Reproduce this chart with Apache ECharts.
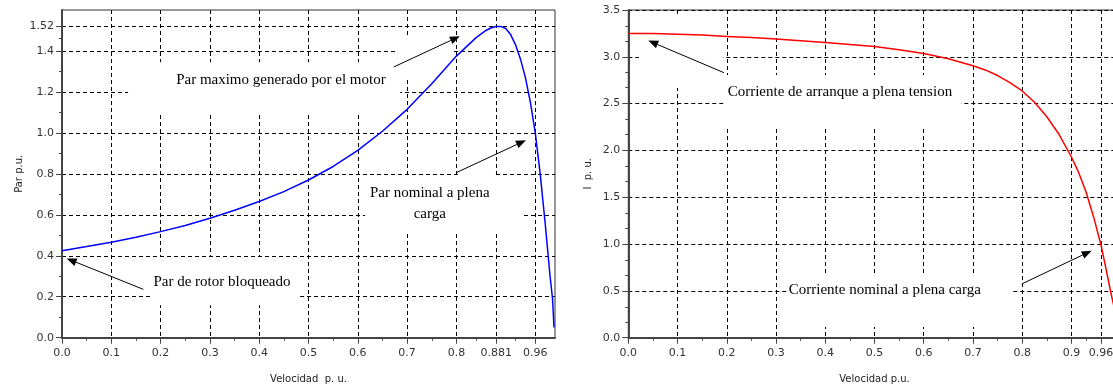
<!DOCTYPE html>
<html>
<head>
<meta charset="utf-8">
<script src="https://cdn.jsdelivr.net/npm/echarts@6/dist/echarts.min.js"></script>
<style>
html,body{margin:0;padding:0;background:#fff;}
#c{width:1113px;height:387px;}
</style>
</head>
<body>
<div id="c"></div>
<script>
// ---------- DATA ----------
// Left chart: torque (p.u.) vs speed (p.u.)
const torqueSpeed = [0.00,0.05,0.10,0.15,0.20,0.25,0.30,0.35,0.40,0.45,0.50,0.55,0.60,0.65,0.70,0.75,0.80,0.82,0.84,0.86,0.87,0.88,0.89,0.90,0.91,0.92,0.93,0.94,0.95,0.96,0.97,0.98,0.99,0.995,0.998];
const torqueValue = [0.425,0.445,0.466,0.490,0.518,0.548,0.583,0.622,0.665,0.713,0.770,0.836,0.915,1.008,1.115,1.24,1.375,1.42,1.465,1.50,1.512,1.519,1.52,1.51,1.48,1.43,1.36,1.27,1.15,1.00,0.80,0.56,0.30,0.19,0.05];
// Right chart: current (p.u.) vs speed (p.u.)
const currentSpeed = [0.00,0.05,0.10,0.15,0.20,0.25,0.30,0.35,0.40,0.45,0.50,0.55,0.60,0.65,0.70,0.725,0.75,0.775,0.80,0.825,0.85,0.875,0.90,0.915,0.93,0.945,0.96,0.97,0.98,0.99];
const currentValue = [3.25,3.248,3.242,3.232,3.218,3.205,3.19,3.172,3.152,3.132,3.11,3.075,3.035,2.98,2.905,2.86,2.80,2.725,2.635,2.515,2.36,2.17,1.93,1.76,1.55,1.29,0.99,0.74,0.48,0.25];

// Tick values and labels
const leftXTicks  = [0,0.1,0.2,0.3,0.4,0.5,0.6,0.7,0.8,0.881,0.96];
const leftXLabels = ['0.0','0.1','0.2','0.3','0.4','0.5','0.6','0.7','0.8','0.881','0.96'];
const leftYTicks  = [0,0.2,0.4,0.6,0.8,1.0,1.2,1.4,1.52];
const leftYLabels = ['0.0','0.2','0.4','0.6','0.8','1.0','1.2','1.4','1.52'];
const leftXMinor  = [0.05,0.15,0.25,0.35,0.45,0.55,0.65,0.75,0.84,0.92];
const leftYMinor  = [0.1,0.3,0.5,0.7,0.9,1.1,1.3,1.46];
const rightXTicks  = [0,0.1,0.2,0.3,0.4,0.5,0.6,0.7,0.8,0.9,0.96];
const rightXLabels = ['0.0','0.1','0.2','0.3','0.4','0.5','0.6','0.7','0.8','0.9','0.96'];
const rightYTicks  = [0,0.5,1.0,1.5,2.0,2.5,3.0,3.5];
const rightYLabels = ['0.0','0.5','1.0','1.5','2.0','2.5','3.0','3.5'];
const rightXMinor  = [0.05,0.15,0.25,0.35,0.45,0.55,0.65,0.75,0.85,0.93];
const rightYMinor  = [0.17,0.33,0.67,0.83,1.17,1.33,1.67,1.83,2.17,2.33,2.67,2.83,3.17,3.33];

// Annotation texts
const leftNoteTexts  = ['Par maximo generado por el motor','Par nominal a plena\ncarga','Par de rotor bloqueado'];
const rightNoteTexts = ['Corriente de arranque a plena tension','Corriente nominal a plena carga'];

// ---------- LAYOUT (annotation placement in axis units) ----------
const leftNotesLayout = [
  {at:[0.444,1.257], box:[0.134,1.10,0.686,1.345], from:[0.673,1.322], to:[0.807,1.472], abox:[0.677,1.272,0.795,1.472]},
  {at:[0.746,0.655], box:[0.615,0.51,0.935,0.783], from:[0.799,0.805], to:[0.941,0.964], abox:[0.803,0.79,0.874,0.915]},
  {at:[0.3245,0.273], box:[0.1785,0.159,0.483,0.394], from:[0.165,0.236], to:[0.0095,0.387], abox:null}
];
const rightNotesLayout = [
  {at:[0.4297,2.625], box:[0.194,2.262,0.676,2.806], from:[0.194,2.831], to:[0.0406,3.173], abox:[0.0217,2.668,0.192,3.448]},
  {at:[0.521,0.51], box:[0.322,0.114,0.781,0.69], from:[0.799,0.574], to:[0.941,0.929], abox:null}
];

function zip(a,b){return a.map((v,i)=>[v,b[i]]);}
function fmt(ticks,labels){return v=>{const i=ticks.findIndex(t=>Math.abs(t-v)<1e-6);return i>=0?labels[i]:'';};}

const tickFont = {fontFamily:'DejaVu Sans',fontSize:11,color:'#333'};
const nameFont = {fontFamily:'DejaVu Sans',fontSize:10,color:'#222'};
const gridLine = {show:true,lineStyle:{color:'#000',width:1,type:[4,3]}};
const axisLine = {show:true,onZero:false,lineStyle:{color:'#444',width:2}};

function mainX(grid,ticks,labels,name){
  return {type:'value',gridIndex:grid,min:0,max:1.0,position:'bottom',
    name:name,nameLocation:'middle',nameGap:37,nameTextStyle:nameFont,
    axisLine:axisLine,
    axisTick:{show:true,length:6,customValues:ticks,lineStyle:{color:'#444',width:1}},
    axisLabel:Object.assign({customValues:ticks,formatter:fmt(ticks,labels),margin:10},tickFont),
    splitLine:gridLine};
}
function minorX(grid,vals){
  return {type:'value',gridIndex:grid,min:0,max:1.0,position:'bottom',
    axisLine:{show:false},axisTick:{show:true,length:3,customValues:vals,lineStyle:{color:'#444'}},
    axisLabel:{show:false,customValues:vals},splitLine:{show:false}};
}
function mainY(grid,max,ticks,labels,name,gap){
  return {type:'value',gridIndex:grid,min:0,max:max,position:'left',
    name:name,nameLocation:'middle',nameGap:gap,nameTextStyle:nameFont,
    axisLine:axisLine,
    axisTick:{show:true,length:6,customValues:ticks,lineStyle:{color:'#444',width:1}},
    axisLabel:Object.assign({customValues:ticks,formatter:fmt(ticks,labels),margin:8},tickFont),
    splitLine:gridLine};
}
function minorY(grid,max,vals){
  return {type:'value',gridIndex:grid,min:0,max:max,position:'left',
    axisLine:{show:false},axisTick:{show:true,length:3,customValues:vals,lineStyle:{color:'#444'}},
    axisLabel:{show:false,customValues:vals},splitLine:{show:false}};
}

const chart = echarts.init(document.getElementById('c'),null,{renderer:'canvas'});
chart.setOption({
  animation:false,
  backgroundColor:'#fff',
  grid:[
    {left:62,top:10,width:493,height:327.7,outerBoundsMode:'none',containLabel:false,show:true,borderColor:'#333',borderWidth:1,backgroundColor:'transparent'},
    {left:628.3,top:10,width:492.4,height:327.7,outerBoundsMode:'none',containLabel:false,show:true,borderColor:'#333',borderWidth:1,backgroundColor:'transparent'}
  ],
  xAxis:[
    mainX(0,leftXTicks,leftXLabels,'Velocidad  p. u.'),
    minorX(0,leftXMinor),
    mainX(1,rightXTicks,rightXLabels,'Velocidad p.u.'),
    minorX(1,rightXMinor)
  ],
  yAxis:[
    mainY(0,1.6,leftYTicks,leftYLabels,'Par p.u.',38),
    minorY(0,1.6,leftYMinor),
    mainY(1,3.5,rightYTicks,rightYLabels,'I  p. u.',35),
    minorY(1,3.5,rightYMinor)
  ],
  series:[
    {type:'line',xAxisIndex:0,yAxisIndex:0,data:zip(torqueSpeed,torqueValue),showSymbol:false,z:2,
     smooth:false,lineStyle:{color:'#0000ff',width:1.5}},
    {type:'line',xAxisIndex:2,yAxisIndex:2,data:zip(currentSpeed,currentValue),showSymbol:false,z:2,
     smooth:false,lineStyle:{color:'#ff0000',width:1.5}}
  ]
});

function buildNotes(seriesIndex,texts,layouts){
  const P = p=>chart.convertToPixel({seriesIndex:seriesIndex},p);
  const els=[];
  layouts.forEach((L,i)=>{
    const boxes=[L.box]; if(L.abox) boxes.push(L.abox);
    boxes.forEach(b=>{
      const a=P([b[0],b[3]]), c=P([b[2],b[1]]);
      els.push({type:'rect',z:1,silent:true,shape:{x:a[0],y:a[1],width:c[0]-a[0],height:c[1]-a[1]},style:{fill:'#fff'}});
    });
    const t=P(L.at);
    els.push({type:'text',z:10,silent:true,style:{text:texts[i],x:t[0],y:t[1],align:'center',verticalAlign:'middle',
      font:'15px "Liberation Serif"',fill:'#000',lineHeight:21}});
    const f=P(L.from), e=P(L.to);
    const dx=e[0]-f[0], dy=e[1]-f[1], len=Math.hypot(dx,dy), ux=dx/len, uy=dy/len;
    const hl=10, hw=4;
    const bx=e[0]-ux*hl, by=e[1]-uy*hl;
    els.push({type:'line',z:10,silent:true,shape:{x1:f[0],y1:f[1],x2:bx,y2:by},style:{stroke:'#000',lineWidth:1}});
    els.push({type:'polygon',z:10,silent:true,shape:{points:[[e[0],e[1]],[bx-uy*hw,by+ux*hw],[bx+uy*hw,by-ux*hw]]},style:{fill:'#000'}});
  });
  return els;
}
chart.setOption({graphic:{elements:buildNotes(0,leftNoteTexts,leftNotesLayout).concat(buildNotes(1,rightNoteTexts,rightNotesLayout))}});
</script>
</body>
</html>
